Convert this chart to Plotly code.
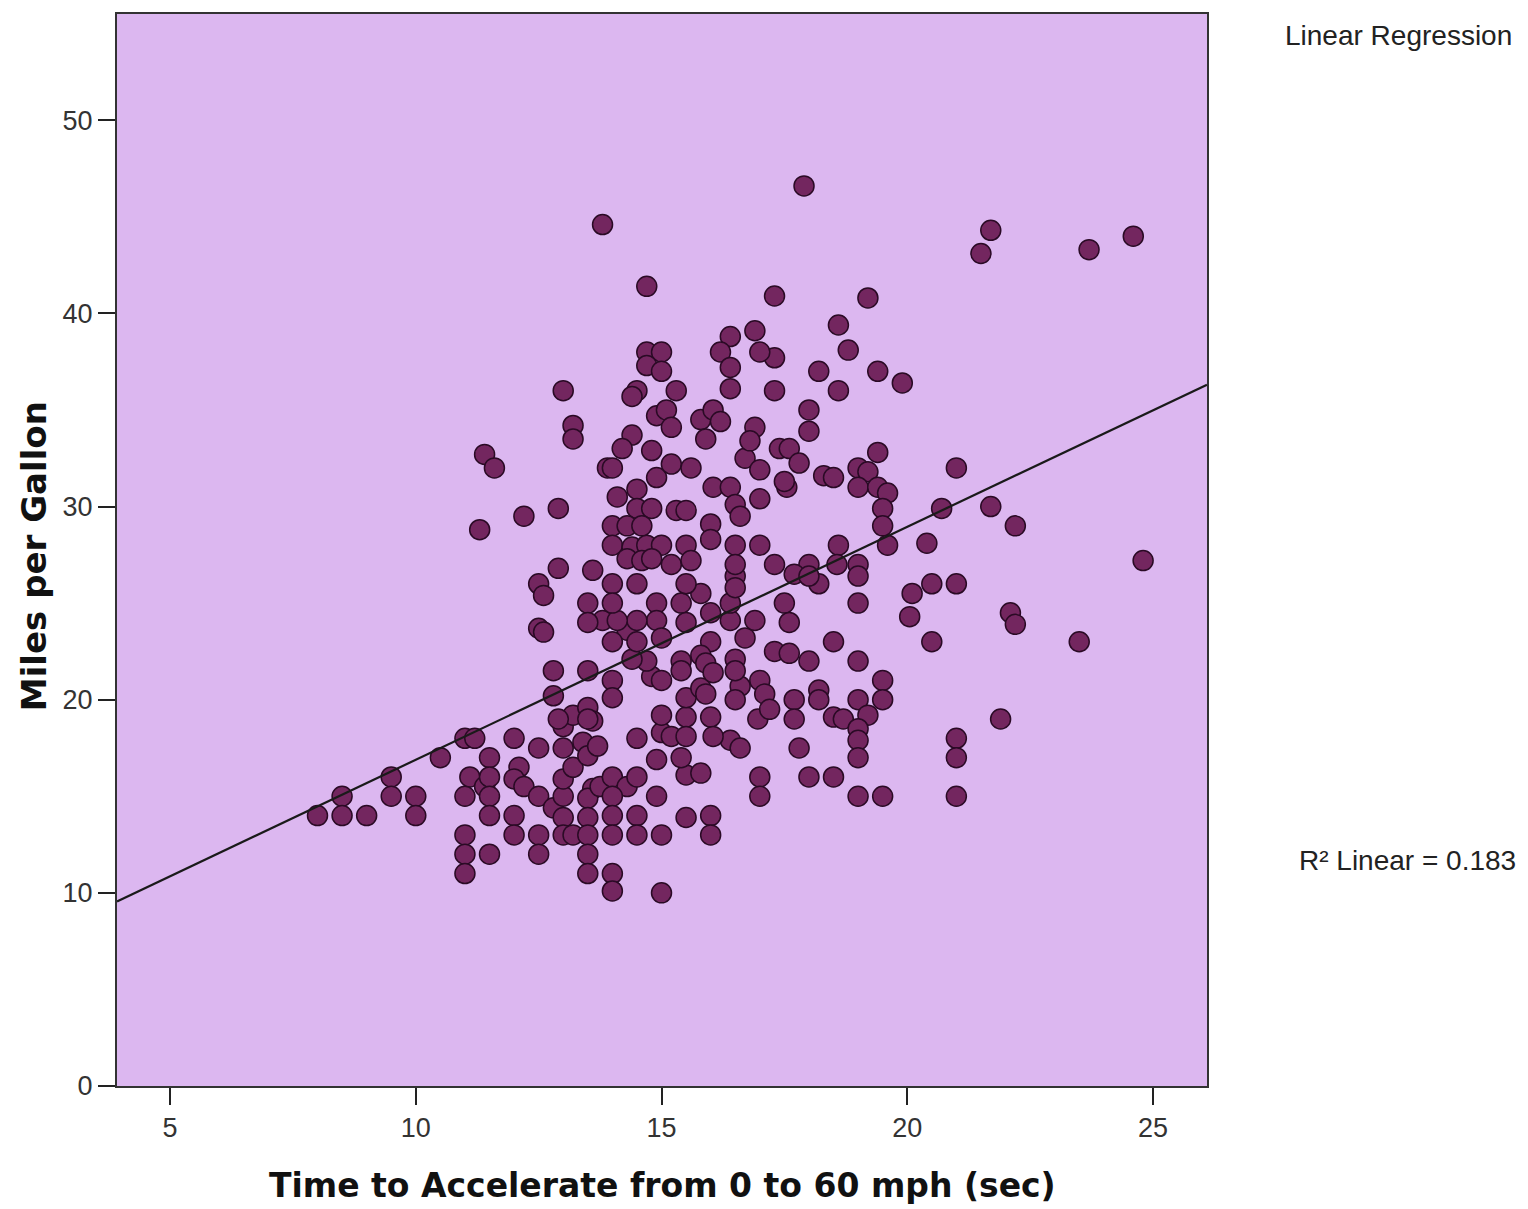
import plotly.graph_objects as go

# Acceleration time (sec) and miles per gallon
accel = [8.0, 8.5, 8.5, 9.0, 9.5, 9.5, 10.0, 10.0, 10.5, 11.0, 11.2, 11.5, 12.0, 12.5, 11.1, 11.0, 11.4, 11.5, 11.5, 11.5,
         11.0, 11.0, 11.0, 11.5, 12.0, 12.0, 12.1, 12.0, 12.2, 12.5, 12.5, 12.5, 12.8, 13.0, 13.0, 13.2, 13.0, 13.0, 13.2, 13.4,
         13.5, 13.5, 13.6, 13.5, 13.0, 13.5, 13.0, 13.2, 13.5, 13.5, 13.5, 13.6,
         13.75, 14.0, 14.3, 14.5, 14.0, 12.9, 13.5, 13.7, 14.0, 14.0, 14.0, 14.0, 14.5, 14.5, 15.0, 15.0, 15.5, 16.0,
         16.0, 16.4, 16.6, 16.0, 16.05, 15.5, 15.8, 14.9, 14.9, 14.5, 15.4, 15.0, 15.2, 15.0, 15.5, 15.5, 15.5, 16.6, 16.5, 16.5,
         16.5, 16.7, 16.4, 16.4, 16.0, 16.5, 16.5, 16.0, 15.8, 15.9, 15.8, 15.9, 16.05, 15.4, 15.4, 15.4, 15.8, 15.5, 15.5, 14.8,
         15.0, 14.7, 14.4, 14.9, 14.9, 15.0, 14.3, 14.5, 14.5, 14.0, 14.5, 13.8, 14.1, 14.0, 14.0, 13.5, 13.5, 13.5, 12.8, 12.8,
         12.5, 12.6, 12.5, 12.6, 14.0, 14.0,
         13.0, 13.2, 13.2, 11.4, 11.6, 14.7, 15.0, 14.7, 15.0, 14.5, 14.4, 15.3, 16.4, 16.2, 16.4, 16.4, 14.9, 15.1, 15.2, 15.8,
         16.05, 16.2, 15.9, 14.4, 14.2, 14.8, 16.7, 13.9, 14.0, 14.9, 15.2, 15.6, 16.05, 16.4, 14.1, 14.5, 14.5, 14.8, 15.3, 15.5,
         16.5, 16.6, 14.0, 14.3, 14.6, 16.0, 16.0, 14.0, 14.4, 14.7, 15.0, 15.5, 16.5, 16.5, 14.3, 14.6, 14.8, 15.2, 15.6, 12.2,
         12.9, 12.9, 13.6, 11.3,
         13.8, 14.7, 17.9, 17.3, 19.2,
         16.9, 17.3, 17.0, 18.2, 18.6, 18.8, 19.4, 19.9, 17.3, 18.6, 18.0, 18.0, 16.9, 16.8, 17.4, 17.6, 17.8, 17.0, 17.55, 17.5,
         18.3, 18.5, 19.4, 19.0, 19.2, 19.0, 19.4, 19.6, 19.5, 19.5, 19.6, 21.0, 20.7, 21.7, 20.4, 17.0, 17.0, 17.3, 18.0, 18.6,
         18.57, 19.0,
         21.7, 21.5, 23.7, 24.6, 22.2, 24.8, 20.5, 21.0, 20.1, 20.05, 20.5, 22.1, 22.2, 23.5, 21.9, 21.0, 21.0, 21.0,
         19.0, 19.0, 18.5, 19.0, 18.0, 19.5, 19.5, 19.0, 18.2, 18.2, 17.7, 17.7, 18.5, 18.7, 19.2, 19.0, 19.0, 19.0, 17.8, 18.0,
         18.5, 19.0, 19.5, 17.0, 17.0, 17.5, 17.6, 16.9, 17.3, 17.6, 17.0, 17.1, 16.96, 17.2, 17.7, 18.2, 18.0]
mpg = [14.0, 15.0, 14.0, 14.0, 16.0, 15.0, 15.0, 14.0, 17.0, 18.0, 18.0, 17.0, 18.0, 17.5, 16.0, 15.0, 15.5, 16.0, 15.0, 14.0,
       13.0, 12.0, 11.0, 12.0, 14.0, 13.0, 16.5, 15.9, 15.5, 15.0, 13.0, 12.0, 14.4, 15.0, 15.9, 16.5, 17.5, 18.6, 19.2, 17.8,
       17.1, 19.6, 15.4, 14.9, 13.9, 13.9, 13.0, 13.0, 13.0, 12.0, 11.0, 18.9,
       15.5, 16.0, 15.5, 16.0, 15.0, 19.0, 19.0, 17.6, 14.0, 13.0, 11.0, 10.1, 14.0, 13.0, 13.0, 10.0, 13.9, 14.0,
       13.0, 17.9, 17.5, 19.1, 18.1, 16.1, 16.2, 16.9, 15.0, 18.0, 17.0, 18.3, 18.1, 19.2, 19.1, 18.1, 20.1, 20.7, 20.0, 22.1,
       21.5, 23.2, 24.1, 25.0, 24.5, 26.4, 25.8, 23.0, 20.6, 20.3, 22.3, 21.9, 21.4, 22.0, 21.5, 25.0, 25.5, 24.0, 26.0, 21.2,
       21.0, 22.0, 22.1, 25.0, 24.1, 23.2, 23.6, 24.1, 23.0, 23.0, 26.0, 24.1, 24.1, 26.0, 25.0, 25.0, 24.0, 21.5, 21.5, 20.2,
       23.7, 23.5, 26.0, 25.4, 21.0, 20.1,
       36.0, 34.2, 33.5, 32.7, 32.0, 38.0, 38.0, 37.3, 37.0, 36.0, 35.7, 36.0, 38.8, 38.0, 37.2, 36.1, 34.7, 35.0, 34.1, 34.5,
       35.0, 34.4, 33.5, 33.7, 33.0, 32.9, 32.5, 32.0, 32.0, 31.5, 32.2, 32.0, 31.0, 31.0, 30.5, 30.9, 29.9, 29.9, 29.8, 29.8,
       30.1, 29.5, 29.0, 29.0, 29.0, 29.1, 28.3, 28.0, 27.9, 28.0, 28.0, 28.0, 28.0, 27.0, 27.3, 27.2, 27.3, 27.0, 27.2, 29.5,
       29.9, 26.8, 26.7, 28.8,
       44.6, 41.4, 46.6, 40.9, 40.8,
       39.1, 37.7, 38.0, 37.0, 39.4, 38.1, 37.0, 36.4, 36.0, 36.0, 35.0, 33.9, 34.1, 33.4, 33.0, 33.0, 32.25, 31.9, 31.0, 31.3,
       31.6, 31.5, 32.8, 32.0, 31.8, 31.0, 31.0, 30.7, 29.9, 29.0, 28.0, 32.0, 29.9, 30.0, 28.1, 30.4, 28.0, 27.0, 27.0, 28.0,
       27.0, 27.0,
       44.3, 43.1, 43.3, 44.0, 29.0, 27.2, 26.0, 26.0, 25.5, 24.3, 23.0, 24.5, 23.9, 23.0, 19.0, 18.0, 17.0, 15.0,
       25.0, 26.4, 23.0, 22.0, 22.0, 21.0, 20.0, 20.0, 20.5, 20.0, 20.0, 19.0, 19.1, 19.0, 19.2, 18.5, 17.9, 17.0, 17.5, 16.0,
       16.0, 15.0, 15.0, 16.0, 15.0, 25.0, 24.0, 24.1, 22.5, 22.4, 21.0, 20.3, 19.0, 19.5, 26.5, 26.0, 26.4]

# Linear fit line as shown in the chart
fit_intercept = 4.83
fit_slope = 1.206
fit_x = [3.92, 26.1]
fit_y = [fit_intercept + fit_slope * v for v in fit_x]

x_ticks = [5, 10, 15, 20, 25]
y_ticks = [0, 10, 20, 30, 40, 50]

fig = go.Figure()
fig.add_trace(go.Scatter(
    x=accel, y=mpg, mode="markers",
    marker=dict(size=20, color="#73265f", line=dict(color="#2a0a25", width=1.5)),
    showlegend=False, hoverinfo="x+y"))
fig.add_trace(go.Scatter(
    x=fit_x, y=fit_y, mode="lines",
    line=dict(color="#1a1a1a", width=2.2),
    showlegend=False, hoverinfo="skip"))

tick_font = dict(family="Liberation Sans, Arial, sans-serif", size=27, color="#333333")
xtitle_font = dict(family="DejaVu Sans, Verdana, sans-serif", size=33, color="#111111")
ytitle_font = dict(family="DejaVu Sans, Verdana, sans-serif", size=34, color="#111111")
side_font = dict(family="Liberation Sans, Arial, sans-serif", size=28, color="#222222")

fig.update_layout(
    width=1520, height=1201,
    margin=dict(l=109, r=321, t=4, b=123),
    paper_bgcolor="white",
    plot_bgcolor="#dcb7f0",
    font=dict(family="Liberation Sans, Arial, sans-serif", color="#222222"),
    xaxis=dict(range=[3.92, 26.1], tickvals=x_ticks, ticks="outside", ticklen=17, tickwidth=2,
               tickcolor="#222222", showgrid=False, zeroline=False, showline=True, mirror=True,
               linecolor="#333333", linewidth=2, tickfont=tick_font),
    yaxis=dict(range=[0, 55.5], tickvals=y_ticks, ticks="outside", ticklen=17, tickwidth=2,
               tickcolor="#222222", showgrid=False, zeroline=False, showline=True, mirror=True,
               linecolor="#333333", linewidth=2, tickfont=tick_font),
    annotations=[
        dict(text="<b>Time to Accelerate from 0 to 60 mph (sec)</b>", xref="paper", yref="paper",
             x=0.5, y=-0.0931, xanchor="center", yanchor="middle", showarrow=False, font=xtitle_font),
        dict(text="<b>Miles per Gallon</b>", xref="paper", yref="paper", textangle=-90,
             x=-0.0755, y=0.494, xanchor="center", yanchor="middle", showarrow=False, font=ytitle_font),
        dict(text="Linear Regression", xref="paper", yref="paper", x=1.0697, y=0.980,
             xanchor="left", yanchor="middle", showarrow=False, font=side_font),
        dict(text="R² Linear = 0.183", xref="paper", yref="paper", x=1.0826, y=0.2104,
             xanchor="left", yanchor="middle", showarrow=False, font=side_font),
    ],
)

fig.write_html("out.html")
